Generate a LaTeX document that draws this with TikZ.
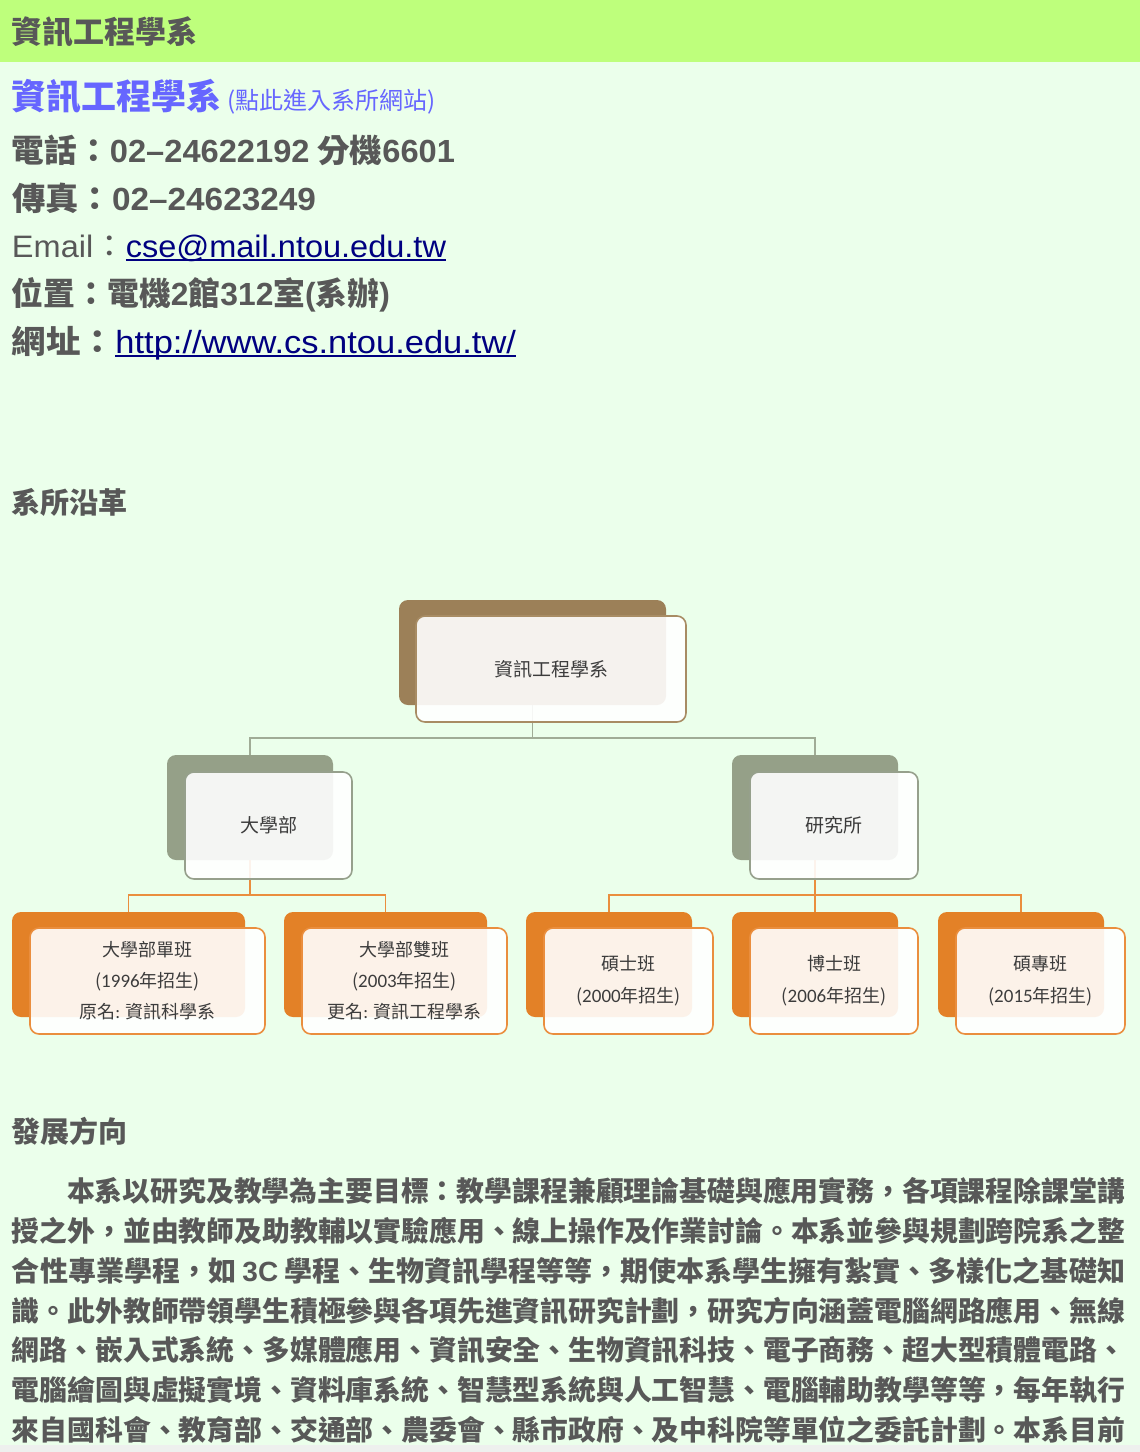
\documentclass[tikz,border=0pt]{standalone}
\usepackage{fontspec}
\usepackage{graphicx}
\setmainfont{Noto Sans CJK TC}
\newfontfamily\latfont{Liberation Sans}
\newfontfamily\calfont{Carlito}
\definecolor{barg}{RGB}{190,255,124}
\definecolor{bodyg}{RGB}{235,255,235}
\definecolor{txtgray}{RGB}{88,88,88}
\definecolor{blueh}{RGB}{102,102,255}
\definecolor{navy}{RGB}{0,0,128}
\definecolor{brownb}{RGB}{156,128,88}
\definecolor{brownl}{RGB}{168,140,100}
\definecolor{sageb}{RGB}{149,160,136}
\definecolor{sagel}{RGB}{150,160,140}
\definecolor{orangeb}{RGB}{227,129,39}
\definecolor{orangel}{RGB}{234,142,62}
\definecolor{sagecon}{RGB}{160,172,150}
\definecolor{charttext}{RGB}{60,60,60}
\definecolor{bottomgray}{RGB}{238,240,238}
\newcommand\myfs[1]{\fontsize{#1pt}{#1pt}\selectfont}
\newcommand\boxfontA{\fontsize{18pt}{31pt}\selectfont}
\newcommand\boxfontB{\fontsize{18pt}{32pt}\selectfont}
\newcommand\chartfont{\fontsize{19pt}{19pt}\selectfont}
\newcommand\ulink[1]{\setbox0\hbox{#1}\rlap{\color{navy}\rule[-4pt]{\wd0}{2pt}}\box0}
\newcommand\fitw[2]{\resizebox{#1}{\height}{#2}}
\newcommand\yr[1]{({\calfont\fontsize{19pt}{19pt}\selectfont #1}年招生)}
\tikzset{
  txt/.style={anchor=base west, inner sep=0pt, outer sep=0pt, text=txtgray},
  backbox/.style={rounded corners=9pt, inner sep=0pt, outer sep=0pt},
  frontbox/.style={rounded corners=9pt, inner sep=0pt, outer sep=0pt, fill=white,
    fill opacity=0.9, text opacity=1, line width=1.6pt, align=center,
    text=charttext, font=\chartfont},
  sagecn/.style={draw=sagecon, line width=1.6pt},
  orangecn/.style={draw=orangel, line width=1.6pt},
  para/.style={anchor=base west, inner sep=0pt, outer sep=0pt, text=txtgray}
}
\begin{document}
\begin{tikzpicture}[x=1pt,y=-1pt]
\useasboundingbox (0,0) rectangle (1140,1452);
\fill[bodyg] (0,0) rectangle (1140,1452);
\fill[barg] (0,0) rectangle (1140,62);
\fill[bottomgray] (0,1445) rectangle (1140,1452);

% header
\node[txt] (title) at (12,43) {\bfseries\myfs{31}資訊工程學系};
\node[txt, text=blueh] (dept) at (12,109) {\bfseries\myfs{35}資訊工程學系\,\mdseries\myfs{24}(點此進入系所網站)};
\node[txt] (tel) at (12,162) {\bfseries\myfs{32}\fitw{443pt}{電話：{\latfont 02–24622192} 分機{\latfont 6601}}};
\node[txt] (fax) at (12,210) {\bfseries\myfs{32}\fitw{304pt}{傳真：{\latfont 02–24623249}}};
\node[txt] (mail) at (12,257) {\myfs{31}\fitw{434pt}{{\latfont Email}：\ulink{\color{navy}\latfont cse@mail.ntou.edu.tw}}};
\node[txt] (loc) at (12,305) {\bfseries\myfs{32}\fitw{378pt}{位置：電機{\latfont 2}館{\latfont 312}室{\latfont (}系辦{\latfont )}}};
\node[txt] (web) at (12,353) {\myfs{32}\fitw{504pt}{\bfseries 網址：\mdseries\ulink{\color{navy}\latfont http://www.cs.ntou.edu.tw/}}};

\node[txt] (hist) at (12,513) {\bfseries\myfs{29}系所沿革};

% chart back boxes
\node[backbox, fill=brownb, minimum width=267pt, minimum height=105pt] (topb) at (532.5,652.5) {};
\node[backbox, fill=sageb, minimum width=166pt, minimum height=105pt] (ugb) at (250,807.5) {};
\node[backbox, fill=sageb, minimum width=166pt, minimum height=105pt] (grb) at (815,807.5) {};
\node[backbox, fill=orangeb, minimum width=233pt, minimum height=105pt] (b1b) at (128.5,964.5) {};
\node[backbox, fill=orangeb, minimum width=203pt, minimum height=105pt] (b2b) at (385.5,964.5) {};
\node[backbox, fill=orangeb, minimum width=166pt, minimum height=105pt] (b3b) at (609,964.5) {};
\node[backbox, fill=orangeb, minimum width=166pt, minimum height=105pt] (b4b) at (815,964.5) {};
\node[backbox, fill=orangeb, minimum width=166pt, minimum height=105pt] (b5b) at (1021,964.5) {};

% connectors
\draw[sagecn] (topb.south) -- ++(0,33) -| (ugb.north);
\draw[sagecn] (topb.south) -- ++(0,33) -| (grb.north);
\draw[orangecn] (ugb.south) -- ++(0,35) -| (b1b.north);
\draw[orangecn] (ugb.south) -- ++(0,35) -| (b2b.north);
\draw[orangecn] (grb.south) -- ++(0,35) -| (b3b.north);
\draw[orangecn] (grb.south) -- (b4b.north);
\draw[orangecn] (grb.south) -- ++(0,35) -| (b5b.north);

% chart front boxes
\node[frontbox, draw=brownl, minimum width=270pt, minimum height=106pt] (topf) at (551,669) {資訊工程學系};
\node[frontbox, draw=sagel, minimum width=167pt, minimum height=107pt] (ugf) at (268.5,825.5) {大學部};
\node[frontbox, draw=sagel, minimum width=168pt, minimum height=107pt] (grf) at (834,825.5) {研究所};
\node[frontbox, draw=orangel, minimum width=235pt, minimum height=106pt, font=\boxfontA] (b1f) at (147.5,981) {大學部單班\\\yr{1996}\\原名{\calfont :} 資訊科學系};
\node[frontbox, draw=orangel, minimum width=205pt, minimum height=106pt, font=\boxfontA] (b2f) at (404.5,981) {大學部雙班\\\yr{2003}\\更名{\calfont :} 資訊工程學系};
\node[frontbox, draw=orangel, minimum width=169pt, minimum height=106pt, font=\boxfontB] (b3f) at (628.5,981) {碩士班\\\yr{2000}};
\node[frontbox, draw=orangel, minimum width=168pt, minimum height=106pt, font=\boxfontB] (b4f) at (834,981) {博士班\\\yr{2006}};
\node[frontbox, draw=orangel, minimum width=169pt, minimum height=106pt, font=\boxfontB] (b5f) at (1040.5,981) {碩專班\\\yr{2015}};

% development
\node[txt] (dev) at (12,1142) {\bfseries\myfs{29}發展方向};
\node[para] (p1) at (67,1201.6) {\bfseries\myfs{27.8}\fitw{1058pt}{本系以研究及教學為主要目標：教學課程兼顧理論基礎與應用實務，各項課程除課堂講}};
\node[para] (p2) at (12,1241.6) {\bfseries\myfs{27.8}\fitw{1113pt}{授之外，並由教師及助教輔以實驗應用、線上操作及作業討論。本系並參與規劃跨院系之整}};
\node[para] (p3) at (12,1281.6) {\bfseries\myfs{27.8}\fitw{1113pt}{合性專業學程，如 {\latfont 3C} 學程、生物資訊學程等等，期使本系學生擁有紮實、多樣化之基礎知}};
\node[para] (p4) at (12,1321.6) {\bfseries\myfs{27.8}\fitw{1113pt}{識。此外教師帶領學生積極參與各項先進資訊研究計劃，研究方向涵蓋電腦網路應用、無線}};
\node[para] (p5) at (12,1360.6) {\bfseries\myfs{27.8}\fitw{1113pt}{網路、嵌入式系統、多媒體應用、資訊安全、生物資訊科技、電子商務、超大型積體電路、}};
\node[para] (p6) at (12,1400.6) {\bfseries\myfs{27.8}\fitw{1113pt}{電腦繪圖與虛擬實境、資料庫系統、智慧型系統與人工智慧、電腦輔助教學等等，每年執行}};
\node[para] (p7) at (12,1440.6) {\bfseries\myfs{27.8}\fitw{1113pt}{來自國科會、教育部、交通部、農委會、縣市政府、及中科院等單位之委託計劃。本系目前}};
\end{tikzpicture}
\end{document}
